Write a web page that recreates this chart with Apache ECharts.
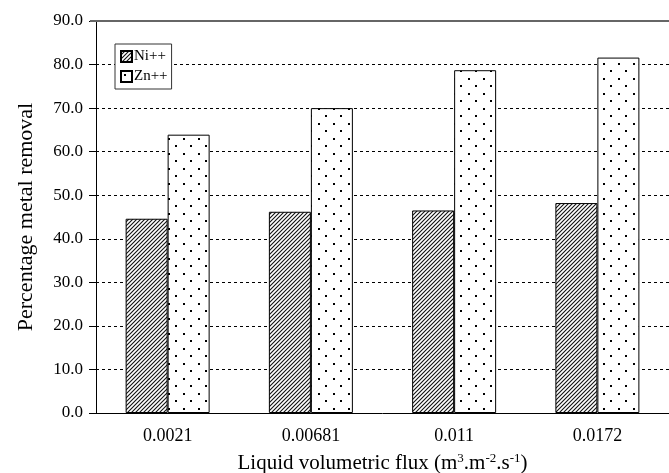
<!DOCTYPE html>
<html>
<head>
<meta charset="utf-8">
<script src="https://cdn.jsdelivr.net/npm/echarts@6/dist/echarts.min.js"></script>
<style>
html, body { margin: 0; padding: 0; background: #fff; }
#chart { width: 669px; height: 473px; }
</style>
</head>
<body>
<div id="chart"></div>
<script>
var categories = ['0.0021', '0.00681', '0.011', '0.0172'];
var niValues = [44.6, 46.2, 46.5, 48.2];
var znValues = [63.9, 70.0, 78.7, 81.6];

// hatch pattern for Ni++
function hatchPattern() {
    var c = document.createElement('canvas');
    c.width = 4; c.height = 4;
    var ctx = c.getContext('2d');
    ctx.fillStyle = '#fff';
    ctx.fillRect(0, 0, 4, 4);
    ctx.strokeStyle = '#111';
    ctx.lineWidth = 1.1;
    ctx.beginPath();
    ctx.moveTo(-1, 5); ctx.lineTo(5, -1);
    ctx.moveTo(-1, 1); ctx.lineTo(1, -1);
    ctx.moveTo(3, 5); ctx.lineTo(5, 3);
    ctx.stroke();
    return c;
}

// dotted pattern for Zn++
function dotPattern() {
    var c = document.createElement('canvas');
    c.width = 15; c.height = 15;
    var ctx = c.getContext('2d');
    ctx.fillStyle = '#fff';
    ctx.fillRect(0, 0, 15, 15);
    ctx.fillStyle = '#000';
    ctx.fillRect(3, 3, 2, 2);
    ctx.fillRect(10, 10, 2, 2);
    return c;
}

var chart = echarts.init(document.getElementById('chart'));
var font = 'Liberation Serif, Times New Roman, serif';

var option = {
    backgroundColor: '#fff',
    animation: false,
    textStyle: { fontFamily: font },
    grid: { left: 96, right: 0, top: 21, bottom: 60, outerBoundsMode: 'none', containLabel: false },
    legend: {
        orient: 'vertical',
        left: 115,
        top: 44,
        icon: 'rect',
        itemWidth: 11,
        itemHeight: 11,
        itemGap: 5,
        padding: [5, 4, 5, 5],
        backgroundColor: '#fff',
        borderColor: '#333',
        borderWidth: 1,
        borderRadius: 0,
        textStyle: { fontFamily: font, fontSize: 15, color: '#000', padding: [0, 0, 0, -3] },
        data: ['Ni++', 'Zn++']
    },
    xAxis: {
        type: 'category',
        data: categories,
        axisLine: { lineStyle: { color: '#000', width: 1 } },
        axisTick: { lineStyle: { color: '#000' }, length: 6 },
        axisLabel: { color: '#000', fontSize: 18, fontFamily: font, margin: 14 },
        name: 'Liquid volumetric flux (m{sup|3}.m{sup|-2}.s{sup|-1})',
        nameLocation: 'middle',
        nameGap: 39,
        nameTextStyle: {
            color: '#000', fontSize: 21, fontFamily: font,
            rich: { sup: { fontSize: 13, verticalAlign: 'top', padding: [0, 0, 9, 0], fontFamily: font, color: '#000' } }
        }
    },
    yAxis: {
        type: 'value',
        min: 0,
        max: 90,
        interval: 10,
        axisLine: { show: true, lineStyle: { color: '#000', width: 1 } },
        axisTick: { show: true, lineStyle: { color: '#000' }, length: 7 },
        axisLabel: { color: '#000', fontSize: 17, fontFamily: font, margin: 13,
            formatter: function (v) { return v.toFixed(1); } },
        splitLine: { lineStyle: { color: '#000', type: [3, 3], width: 1 } },
        name: 'Percentage metal removal',
        nameLocation: 'middle',
        nameGap: 59,
        nameTextStyle: { color: '#000', fontSize: 22, fontFamily: font }
    },
    series: [
        {
            name: 'Ni++',
            type: 'bar',
            data: niValues,
            barWidth: 42,
            barGap: '0%',
            itemStyle: { color: { image: hatchPattern(), repeat: 'repeat' }, borderColor: '#000', borderWidth: 1 }
        },
        {
            name: 'Zn++',
            type: 'bar',
            data: znValues,
            barWidth: 42,
            barGap: '0%',
            itemStyle: { color: { image: dotPattern(), repeat: 'repeat' }, borderColor: '#000', borderWidth: 1 }
        }
    ],
    graphic: [{
        type: 'line',
        shape: { x1: 90, y1: 21, x2: 669, y2: 21 },
        style: { stroke: '#666', lineWidth: 2 },
        z: 10
    }]
};

chart.setOption(option);
</script>
</body>
</html>
